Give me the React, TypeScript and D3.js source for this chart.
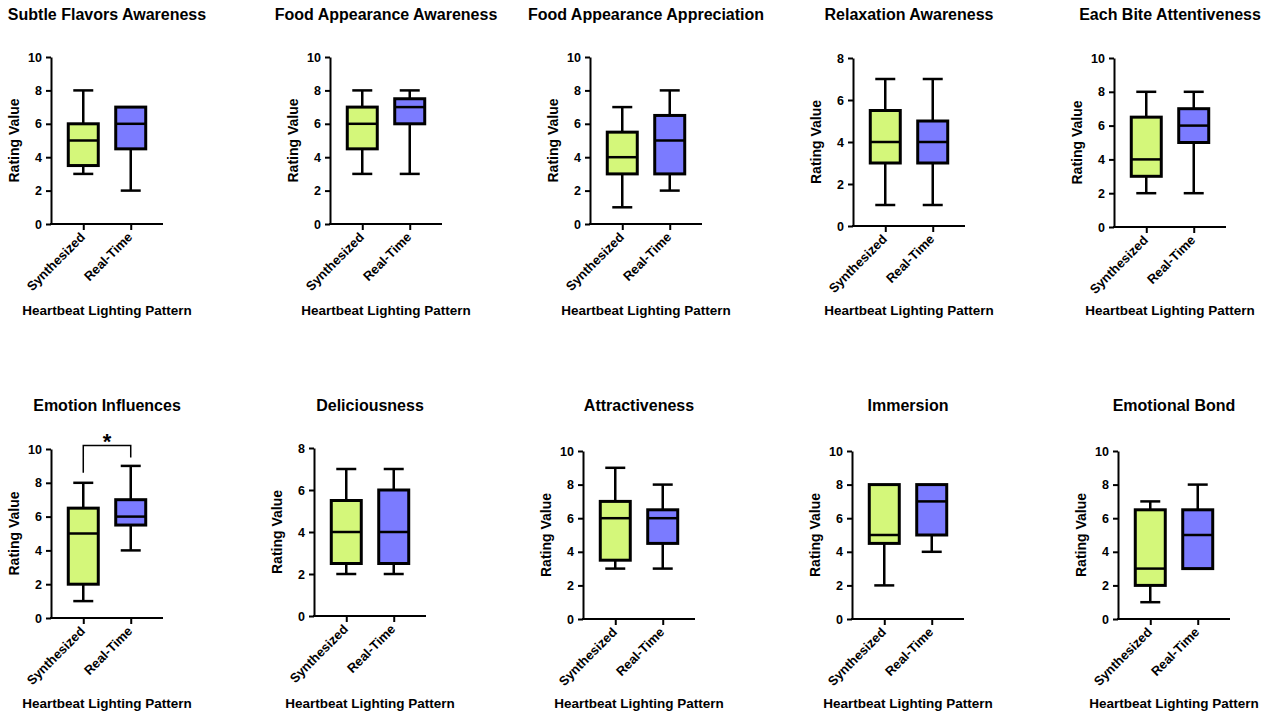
import React, { useEffect, useRef } from "react";
import * as d3 from "d3";

const groups = ["Synthesized", "Real-Time"];

const titles = [
  "Subtle Flavors Awareness",
  "Food Appearance Awareness",
  "Food Appearance Appreciation",
  "Relaxation Awareness",
  "Each Bite Attentiveness",
  "Emotion Influences",
  "Deliciousness",
  "Attractiveness",
  "Immersion",
  "Emotional Bond",
];

const yMaxes = [10, 10, 10, 8, 10, 10, 8, 10, 10, 10];

// [min, q1, median, q3, max]
const synthesized = [
  [3, 3.5, 5, 6, 8],
  [3, 4.5, 6, 7, 8],
  [1, 3, 4, 5.5, 7],
  [1, 3, 4, 5.5, 7],
  [2, 3, 4, 6.5, 8],
  [1, 2, 5, 6.5, 8],
  [2, 2.5, 4, 5.5, 7],
  [3, 3.5, 6, 7, 9],
  [2, 4.5, 5, 8, 8],
  [1, 2, 3, 6.5, 7],
];

const realTime = [
  [2, 4.5, 6, 7, 7],
  [3, 6, 7, 7.5, 8],
  [2, 3, 5, 6.5, 8],
  [1, 3, 4, 5, 7],
  [2, 5, 6, 7, 8],
  [4, 5.5, 6, 7, 9],
  [2, 2.5, 4, 6, 7],
  [3, 4.5, 6, 6.5, 8],
  [4, 5, 7, 8, 8],
  [3, 3, 5, 6.5, 8],
];

// significance bracket: left leg bottom, top, right leg bottom
const brackets = [{ panel: 5, legs: [8.6, 10.2, 9.5], label: "*" }];

const colors = ["#d4f77a", "#7b7bff"];

// panel frames (y axis x position, plot top/bottom, row)
const layout = [
  { x: 51, top: 57, bottom: 224, row: 0 },
  { x: 330, top: 57, bottom: 224, row: 0 },
  { x: 590, top: 57, bottom: 224, row: 0 },
  { x: 853, top: 58, bottom: 226, row: 0 },
  { x: 1114, top: 58, bottom: 227, row: 0 },
  { x: 51, top: 449, bottom: 618, row: 1 },
  { x: 314, top: 448, bottom: 616, row: 1 },
  { x: 583, top: 451, bottom: 619, row: 1 },
  { x: 852, top: 451, bottom: 619, row: 1 },
  { x: 1118, top: 451, bottom: 619, row: 1 },
];
const titleY = [20, 411];
const xLabelY = [315, 708];

const plotW = 112;
const font = "'Liberation Sans', Arial, sans-serif";

export default function App() {
  const ref = useRef<SVGSVGElement>(null);

  useEffect(() => {
    const svg = d3.select(ref.current);
    svg.selectAll("*").remove();

    titles.forEach((title, i) => {
      const L = layout[i];
      const g = svg.append("g").attr("transform", `translate(${L.x},0)`);
      const y = d3.scaleLinear().domain([0, yMaxes[i]]).range([L.bottom, L.top]);
      const x = d3.scalePoint<string>().domain(groups).range([0, plotW]).padding(0.68);

      // title
      g.append("text")
        .attr("x", plotW / 2)
        .attr("y", titleY[L.row])
        .attr("text-anchor", "middle")
        .attr("font-family", font)
        .attr("font-weight", "bold")
        .attr("font-size", 16)
        .text(title);

      // y axis
      const yAxis = d3.axisLeft(y).ticks(yMaxes[i] / 2).tickSize(5).tickSizeOuter(0);
      const ya = g.append("g").call(yAxis);
      ya.select(".domain").attr("stroke-width", 2);
      ya.selectAll(".tick line").attr("stroke-width", 2);
      ya.selectAll(".tick text")
        .attr("font-family", font)
        .attr("font-weight", "bold")
        .attr("font-size", 12.5)
        .attr("x", -9)
        .attr("fill", "#000");

      // x axis
      const xAxis = d3.axisBottom(x).tickSize(6).tickSizeOuter(0);
      const xa = g.append("g").attr("transform", `translate(0,${L.bottom})`).call(xAxis);
      xa.select(".domain").attr("stroke-width", 2).attr("d", `M-1,0H${plotW}`);
      xa.selectAll(".tick line").attr("stroke-width", 2);
      xa.selectAll(".tick text")
        .attr("font-family", font)
        .attr("font-weight", "bold")
        .attr("font-size", 13)
        .attr("fill", "#000")
        .attr("text-anchor", "end")
        .attr("dy", null)
        .attr("y", 0)
        .attr("transform", "translate(2,14) rotate(-45)");

      // y label
      g.append("text")
        .attr("transform", `translate(-32,${(L.top + L.bottom) / 2}) rotate(-90)`)
        .attr("text-anchor", "middle")
        .attr("font-family", font)
        .attr("font-weight", "bold")
        .attr("font-size", 14)
        .text("Rating Value");

      // x label
      g.append("text")
        .attr("x", plotW / 2)
        .attr("y", xLabelY[L.row])
        .attr("text-anchor", "middle")
        .attr("font-family", font)
        .attr("font-weight", "bold")
        .attr("font-size", 13.5)
        .text("Heartbeat Lighting Pattern");

      // boxes
      const boxW = 30;
      const capW = 20;
      [synthesized[i], realTime[i]].forEach((s, k) => {
        const cx = x(groups[k]) as number;
        const [mn, q1, md, q3, mx] = s;
        const bg = g.append("g");
        const wh = (a: number, b: number) => {
          if (a === b) return;
          bg.append("line").attr("x1", cx).attr("x2", cx).attr("y1", y(a)).attr("y2", y(b))
            .attr("stroke", "#000").attr("stroke-width", 2.5);
          bg.append("line").attr("x1", cx - capW / 2).attr("x2", cx + capW / 2)
            .attr("y1", y(b)).attr("y2", y(b))
            .attr("stroke", "#000").attr("stroke-width", 2.5);
        };
        wh(q1, mn);
        wh(q3, mx);
        bg.append("rect")
          .attr("x", cx - boxW / 2)
          .attr("y", y(q3))
          .attr("width", boxW)
          .attr("height", y(q1) - y(q3))
          .attr("fill", colors[k])
          .attr("stroke", "#000")
          .attr("stroke-width", 3);
        bg.append("line").attr("x1", cx - boxW / 2).attr("x2", cx + boxW / 2)
          .attr("y1", y(md)).attr("y2", y(md))
          .attr("stroke", "#000").attr("stroke-width", 2.5);
      });

      // significance
      brackets.filter((b) => b.panel === i).forEach((b) => {
        const x1 = x(groups[0]) as number;
        const x2 = x(groups[1]) as number;
        const path = d3.path();
        path.moveTo(x1, y(b.legs[0]));
        path.lineTo(x1, y(b.legs[1]));
        path.lineTo(x2, y(b.legs[1]));
        path.lineTo(x2, y(b.legs[2]));
        g.append("path").attr("d", path.toString()).attr("fill", "none")
          .attr("stroke", "#000").attr("stroke-width", 1.5);
        g.append("text")
          .attr("x", (x1 + x2) / 2)
          .attr("y", y(b.legs[1]) + 3)
          .attr("text-anchor", "middle")
          .attr("font-family", font)
          .attr("font-weight", "bold")
          .attr("font-size", 22)
          .text(b.label);
      });
    });
  }, []);

  return (
    <svg
      ref={ref}
      width={1273}
      height={713}
      style={{ position: "absolute", left: 0, top: 0, background: "#fff" }}
    />
  );
}
